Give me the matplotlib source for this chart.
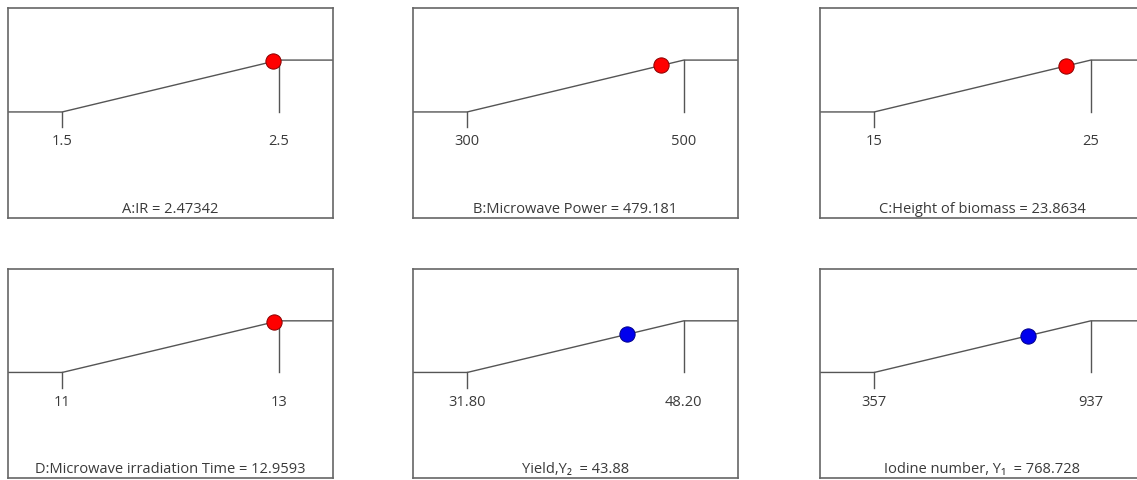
import matplotlib.pyplot as plt

plt.rcParams['font.family'] = ['Open Sans', 'DejaVu Sans']
plt.rcParams['font.size'] = 10.5

# factor / response settings: name, low, high, current value, dot colour
names   = ['A:IR', 'B:Microwave Power', 'C:Height of biomass',
           'D:Microwave irradiation Time', 'Yield,Y\u2082 ', 'Iodine number, Y\u2081 ']
lows    = [1.5, 300, 15, 11, 31.80, 357]
highs   = [2.5, 500, 25, 13, 48.20, 937]
values  = [2.47342, 479.181, 23.8634, 12.9593, 43.88, 768.728]
low_labels  = ['1.5', '300', '15', '11', '31.80', '357']
high_labels = ['2.5', '500', '25', '13', '48.20', '937']
value_labels = ['2.47342', '479.181', '23.8634', '12.9593', '43.88', '768.728']
colors  = ['#ff0000', '#ff0000', '#ff0000', '#ff0000', '#0000ee', '#0000ee']

W, H = 1137, 481
LINE = '#555555'
Y_LO, Y_HI = 0.505, 0.752

fig = plt.figure(figsize=(W / 100, H / 100), dpi=100)

lefts = [8, 413, 820]
rows = [(9, 219), (270, 479)]

for i in range(6):
    r, c = divmod(i, 3)
    top, bot = rows[r]
    ax = fig.add_axes([lefts[c] / W, 1 - bot / H, 325 / W, (bot - top) / H])
    lo, hi = lows[i], highs[i]
    pad = (hi - lo) * 0.25
    ax.set_xlim(lo - pad, hi + pad)
    ax.set_ylim(0, 1)
    ax.set_xticks([])
    ax.set_yticks([])
    for s in ax.spines.values():
        s.set_color('#666666')
        s.set_linewidth(1.2)

    # desirability ramp
    ax.plot([lo - pad, lo, hi, hi + pad], [Y_LO, Y_LO, Y_HI, Y_HI],
            color=LINE, lw=1.0, zorder=2)
    ax.plot([lo, lo], [Y_LO, 0.433], color=LINE, lw=1.0, zorder=2)
    ax.plot([hi, hi], [Y_HI, Y_LO], color=LINE, lw=1.0, zorder=2)

    ax.text(lo, 0.367, low_labels[i], ha='center', va='center', color='#3a3a3a')
    ax.text(hi, 0.367, high_labels[i], ha='center', va='center', color='#3a3a3a')

    v = values[i]
    d = (v - lo) / (hi - lo)
    ax.plot([v], [Y_LO + d * (Y_HI - Y_LO)], 'o', ms=11, mfc=colors[i],
            mec='#8a0000' if i < 4 else '#00008a', mew=0.7, zorder=3)

    ax.text(0.5, 0.045, f'{names[i]} = {value_labels[i]}', transform=ax.transAxes,
            ha='center', va='center', color='#3a3a3a')

fig.savefig('out.png', dpi=100)
